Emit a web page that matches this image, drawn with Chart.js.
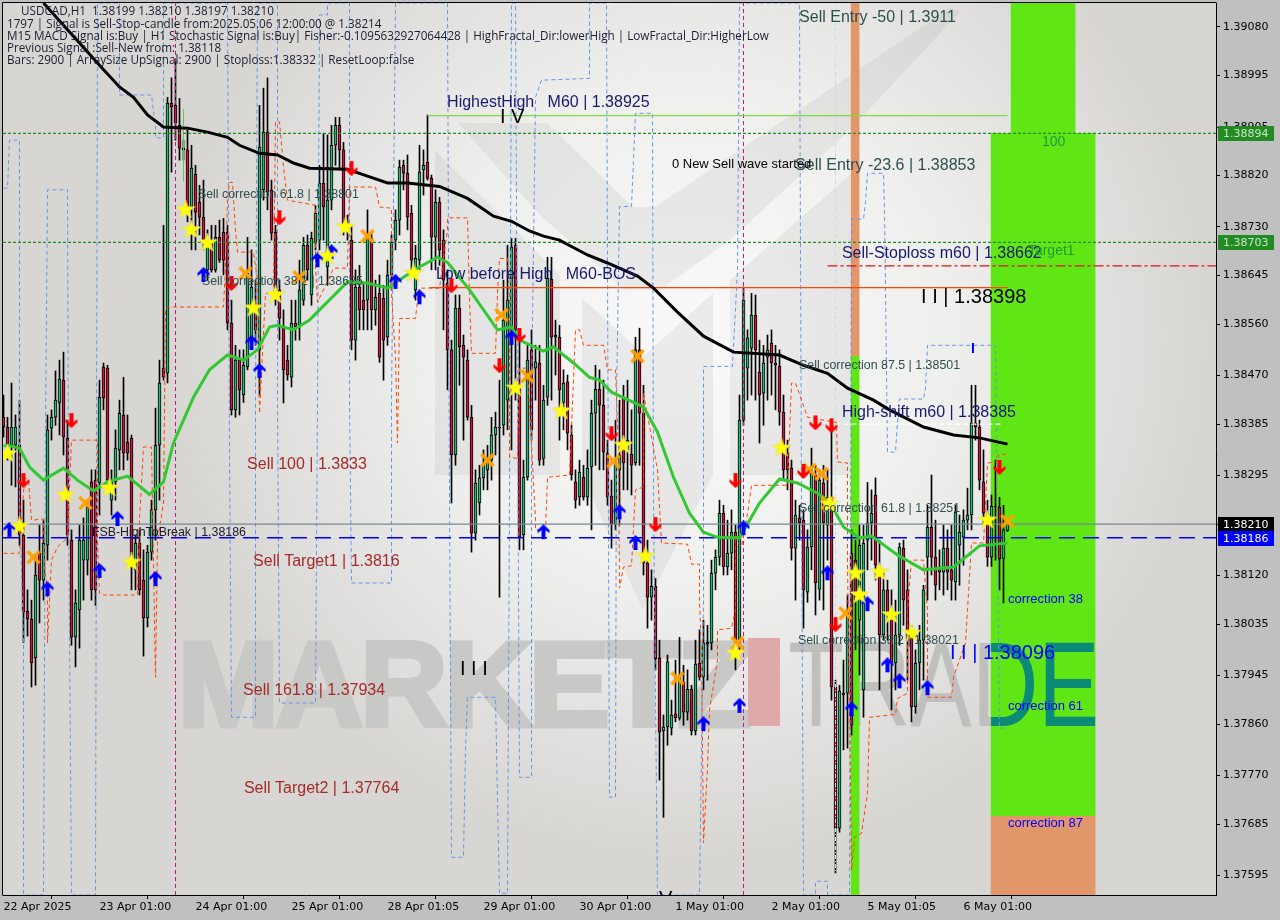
<!DOCTYPE html>
<html>
<head>
<meta charset="utf-8">
<title>USDCAD,H1</title>
<script src="https://cdn.jsdelivr.net/npm/chart.js@4/dist/chart.umd.min.js"></script>
<style>
html,body{margin:0;padding:0;background:#c0c0c0;}
canvas{display:block;}
</style>
</head>
<body>
<canvas id="chart" width="1280" height="920"></canvas>
<script>
// candles, one hour each
const highs = [1.38436,1.38397,1.38457,1.38401,1.38427,1.38252,1.38095,1.38077,1.38156,1.38208,1.38217,1.38401,
1.38410,1.38478,1.38497,1.38511,1.38392,1.38200,1.38095,1.38208,1.38221,1.38252,1.38305,1.38305,
1.38462,1.38492,1.38488,1.38305,1.38375,1.38427,1.38467,1.38401,1.38366,1.38191,1.38200,1.38165,
1.38173,1.38252,1.38413,1.38497,1.38733,1.38957,1.38991,1.39022,1.38955,1.38882,1.38900,1.38873,
1.38838,1.38803,1.38812,1.38725,1.38733,1.38733,1.38742,1.38745,1.38733,1.38602,1.38523,1.38515,
1.38515,1.38712,1.38690,1.38637,1.38943,1.38973,1.38991,1.38812,1.38733,1.38637,1.38585,1.38523,
1.38602,1.38602,1.38672,1.38712,1.38716,1.38721,1.38768,1.38838,1.38894,1.38891,1.38908,1.38922,
1.38922,1.38878,1.38751,1.38733,1.38655,1.38663,1.38633,1.38760,1.38721,1.38637,1.38646,1.38628,
1.38672,1.38716,1.38760,1.38847,1.38847,1.38856,1.38768,1.38698,1.38873,1.38865,1.38926,1.38821,
1.38795,1.38782,1.38725,1.38655,1.38532,1.38611,1.38611,1.38541,1.38515,1.38418,1.38305,1.38313,
1.38340,1.38348,1.38397,1.38406,1.38462,1.38637,1.38698,1.38710,1.38710,1.38550,1.38322,1.38523,
1.38550,1.38523,1.38523,1.38453,1.38677,1.38677,1.38567,1.38558,1.38480,1.38471,1.38383,1.38305,
1.38322,1.38313,1.38340,1.38427,1.38488,1.38480,1.38462,1.38357,1.38287,1.38392,1.38427,1.38453,
1.38462,1.38410,1.38537,1.38553,1.38453,1.38182,1.38130,1.38115,1.38007,1.37876,1.37981,1.37902,
1.37972,1.38012,1.37963,1.37955,1.37928,1.38007,1.38025,1.38042,1.38033,1.38147,1.38165,1.38252,
1.38243,1.38217,1.38235,1.38208,1.38436,1.38625,1.38550,1.38614,1.38611,1.38532,1.38523,1.38541,
1.38550,1.38523,1.38515,1.38436,1.38357,1.38322,1.38252,1.38243,1.38235,1.38200,1.38343,1.38313,
1.38305,1.38313,1.38305,1.38383,1.37937,1.37928,1.37972,1.38086,1.38200,1.38182,1.38208,1.38208,
1.38283,1.38270,1.38291,1.38182,1.38130,1.38112,1.38095,1.38077,1.38177,1.38182,1.38130,1.38033,
1.37990,1.38033,1.38103,1.38243,1.38296,1.38217,1.38165,1.38208,1.38200,1.38208,1.38243,1.38226,
1.38235,1.38273,1.38453,1.38453,1.38392,1.38340,1.38252,1.38261,1.38322,1.38257,1.38243,1.38210];
const lows = [1.38362,1.38322,1.38278,1.38275,1.38173,1.38003,1.38014,1.37925,1.37928,1.38037,1.38077,1.38147,
1.38357,1.38383,1.38366,1.38331,1.38173,1.37998,1.37960,1.37993,1.38077,1.38121,1.38077,1.38068,
1.38226,1.38410,1.38270,1.38226,1.38252,1.38305,1.38305,1.38322,1.38095,1.38095,1.38086,1.37979,
1.38030,1.38147,1.38182,1.38252,1.38462,1.38457,1.38826,1.38882,1.38847,1.38847,1.38739,1.38690,
1.38690,1.38716,1.38690,1.38637,1.38651,1.38651,1.38668,1.38646,1.38550,1.38401,1.38397,1.38401,
1.38423,1.38480,1.38515,1.38523,1.38436,1.38777,1.38760,1.38707,1.38593,1.38532,1.38422,1.38462,
1.38450,1.38532,1.38532,1.38593,1.38637,1.38593,1.38690,1.38690,1.38707,1.38628,1.38760,1.38838,
1.38830,1.38716,1.38707,1.38515,1.38497,1.38550,1.38550,1.38550,1.38550,1.38558,1.38493,1.38462,
1.38523,1.38620,1.38690,1.38716,1.38795,1.38725,1.38655,1.38602,1.38655,1.38786,1.38812,1.38655,
1.38655,1.38663,1.38550,1.38445,1.38247,1.38313,1.38453,1.38357,1.38392,1.38161,1.38182,1.38226,
1.38270,1.38270,1.38287,1.38331,1.38082,1.38366,1.38375,1.38340,1.38427,1.38165,1.38165,1.38287,
1.38357,1.38427,1.38313,1.38313,1.38418,1.38427,1.38471,1.38357,1.38375,1.38340,1.38287,1.38238,
1.38243,1.38252,1.38243,1.38200,1.38313,1.38305,1.38305,1.38243,1.38168,1.38200,1.38208,1.38270,
1.38270,1.38261,1.38313,1.38313,1.38121,1.38028,1.38042,1.37955,1.37762,1.37697,1.37823,1.37841,
1.37864,1.37867,1.37858,1.37867,1.37841,1.37841,1.37937,1.37920,1.37937,1.37990,1.38095,1.38138,
1.38121,1.38121,1.38130,1.37955,1.37990,1.38383,1.38427,1.38436,1.38427,1.38352,1.38383,1.38427,
1.38436,1.38410,1.38383,1.38287,1.38270,1.38147,1.38077,1.38182,1.38028,1.38073,1.38130,1.38051,
1.38077,1.38060,1.38147,1.37902,1.37599,1.37671,1.37815,1.37818,1.37841,1.37990,1.37946,1.37872,
1.38130,1.38147,1.38112,1.37920,1.38007,1.38007,1.37885,1.37920,1.37998,1.38033,1.37937,1.37864,
1.37879,1.37920,1.37937,1.38077,1.38121,1.38077,1.38095,1.38086,1.38095,1.38077,1.38077,1.38103,
1.38138,1.38200,1.38200,1.38357,1.38270,1.38208,1.38136,1.38136,1.38147,1.38095,1.38072,1.38197];
const opens = [1.38397,1.38380,1.38348,1.38348,1.38348,1.38191,1.38058,1.38044,1.37976,1.38159,1.38112,1.38173,
1.38378,1.38397,1.38423,1.38462,1.38360,1.38182,1.38012,1.38060,1.38147,1.38147,1.38284,1.38287,
1.38282,1.38485,1.38483,1.38252,1.38284,1.38340,1.38401,1.38353,1.38360,1.38130,1.38177,1.38112,
1.38046,1.38161,1.38235,1.38348,1.38483,1.38474,1.38947,1.38943,1.38908,1.38865,1.38865,1.38765,
1.38822,1.38773,1.38747,1.38655,1.38707,1.38655,1.38712,1.38721,1.38721,1.38562,1.38410,1.38497,
1.38436,1.38485,1.38532,1.38593,1.38515,1.38795,1.38896,1.38795,1.38721,1.38620,1.38553,1.38497,
1.38467,1.38562,1.38558,1.38602,1.38698,1.38611,1.38703,1.38707,1.38807,1.38660,1.38777,1.38873,
1.38908,1.38865,1.38733,1.38707,1.38532,1.38625,1.38602,1.38602,1.38710,1.38585,1.38614,1.38605,
1.38537,1.38646,1.38707,1.38742,1.38838,1.38824,1.38754,1.38620,1.38672,1.38830,1.38843,1.38815,
1.38712,1.38773,1.38707,1.38632,1.38515,1.38331,1.38588,1.38523,1.38497,1.38397,1.38194,1.38247,
1.38291,1.38305,1.38322,1.38366,1.38380,1.38383,1.38427,1.38550,1.38698,1.38450,1.38191,1.38292,
1.38515,1.38483,1.38492,1.38325,1.38432,1.38639,1.38541,1.38537,1.38423,1.38459,1.38366,1.38284,
1.38257,1.38292,1.38257,1.38310,1.38404,1.38446,1.38418,1.38334,1.38259,1.38210,1.38305,1.38431,
1.38340,1.38332,1.38317,1.38515,1.38404,1.38142,1.38082,1.38101,1.37976,1.37848,1.37855,1.37853,
1.37878,1.37871,1.37933,1.37881,1.37921,1.37848,1.37967,1.37942,1.38003,1.38002,1.38124,1.38152,
1.38229,1.38135,1.38159,1.38196,1.38007,1.38392,1.38483,1.38518,1.38576,1.38476,1.38439,1.38502,
1.38527,1.38492,1.38486,1.38406,1.38334,1.38308,1.38168,1.38221,1.38217,1.38091,1.38170,1.38296,
1.38096,1.38282,1.38208,1.38252,1.37925,1.37678,1.37914,1.37914,1.38159,1.38147,1.38042,1.37920,
1.38182,1.38212,1.38261,1.38130,1.38016,1.38095,1.38051,1.37967,1.38016,1.38168,1.38095,1.38012,
1.37890,1.37967,1.38007,1.38152,1.38205,1.38152,1.38135,1.38126,1.38168,1.38130,1.38109,1.38173,
1.38187,1.38217,1.38226,1.38387,1.38380,1.38284,1.38229,1.38152,1.38241,1.38240,1.38150,1.38199];
const closes = [1.38380,1.38348,1.38380,1.38380,1.38191,1.38056,1.38044,1.37967,1.38121,1.38112,1.38177,1.38375,
1.38397,1.38427,1.38464,1.38362,1.38191,1.38012,1.38072,1.38182,1.38182,1.38240,1.38095,1.38095,
1.38432,1.38431,1.38287,1.38287,1.38343,1.38404,1.38334,1.38334,1.38147,1.38177,1.38095,1.38046,
1.38161,1.38235,1.38348,1.38457,1.38467,1.38947,1.38940,1.38912,1.38868,1.38868,1.38765,1.38833,
1.38756,1.38747,1.38703,1.38707,1.38655,1.38712,1.38672,1.38672,1.38562,1.38410,1.38497,1.38445,
1.38488,1.38649,1.38625,1.38550,1.38870,1.38896,1.38791,1.38719,1.38602,1.38570,1.38480,1.38471,
1.38562,1.38555,1.38620,1.38698,1.38655,1.38710,1.38754,1.38807,1.38765,1.38777,1.38873,1.38908,
1.38865,1.38730,1.38728,1.38532,1.38625,1.38585,1.38585,1.38710,1.38585,1.38607,1.38502,1.38532,
1.38646,1.38703,1.38742,1.38835,1.38824,1.38747,1.38672,1.38675,1.38826,1.38838,1.38815,1.38712,
1.38773,1.38690,1.38637,1.38515,1.38331,1.38588,1.38520,1.38502,1.38397,1.38194,1.38282,1.38291,
1.38313,1.38326,1.38366,1.38380,1.38378,1.38567,1.38602,1.38695,1.38550,1.38187,1.38292,1.38497,
1.38375,1.38494,1.38322,1.38427,1.38640,1.38537,1.38537,1.38445,1.38457,1.38369,1.38296,1.38252,
1.38301,1.38257,1.38308,1.38404,1.38446,1.38418,1.38336,1.38257,1.38210,1.38317,1.38331,1.38317,
1.38357,1.38313,1.38515,1.38404,1.38142,1.38082,1.38101,1.37974,1.37846,1.37855,1.37969,1.37876,
1.37871,1.37941,1.37881,1.37921,1.37848,1.37965,1.37942,1.38002,1.38000,1.38124,1.38152,1.38229,
1.38135,1.38159,1.38196,1.38007,1.38392,1.38602,1.38536,1.38576,1.38515,1.38436,1.38492,1.38515,
1.38492,1.38488,1.38406,1.38305,1.38305,1.38168,1.38226,1.38212,1.38095,1.38170,1.38299,1.38107,
1.38287,1.38212,1.38257,1.37925,1.37678,1.37918,1.37911,1.38060,1.37858,1.38077,1.38173,1.38177,
1.38212,1.38229,1.38138,1.38016,1.38095,1.38051,1.37969,1.38016,1.38170,1.38077,1.38007,1.37890,
1.37967,1.38007,1.38095,1.38205,1.38152,1.38103,1.38126,1.38168,1.38126,1.38112,1.38231,1.38196,
1.38217,1.38226,1.38387,1.38380,1.38287,1.38229,1.38152,1.38241,1.38240,1.38149,1.38200,1.38210];

const priceTicks = [1.39080,1.38995,1.38905,1.38820,1.38730,1.38645,1.38560,1.38470,1.38385,1.38295,1.38210,1.38120,1.38035,1.37945,1.37860,1.37770,1.37685,1.37595];
const dayTicks = [0,24,48,72,96,120,144,168,192,216,240];
const dayLabels = ['22 Apr 2025','23 Apr 01:00','24 Apr 01:00','25 Apr 01:00','28 Apr 01:05','29 Apr 01:00','30 Apr 01:00','1 May 01:00','2 May 01:00','5 May 01:05','6 May 01:00'];

// moving averages
const slowBars = [10,19,24,29,32.5,36,40,46,51,56,59,64,68.5,72.5,76.5,86,91,96,101,109,116,122.5,127,131.5,135,139,146,151,158.5,162.5,168.5,175,182.5,194,200,206,211,217.5,221.5,230,237.5,244,251];
const slowValues = [1.39122,1.39052,1.39013,1.38975,1.38957,1.38926,1.38905,1.38903,1.38896,1.38887,1.38873,1.38859,1.38856,1.38842,1.38833,1.38831,1.38819,1.38807,1.38807,1.38801,1.38780,1.38749,1.38740,1.38723,1.38714,1.38707,1.38681,1.38667,1.38644,1.38623,1.38581,1.38539,1.38511,1.38506,1.38488,1.38474,1.38448,1.38427,1.38410,1.38380,1.38366,1.38361,1.38350];
const fastBars = [0,1.5,4,6.5,10,15,18.5,22.5,26,31,36.5,40,42.5,47.5,51.5,56,60,63.5,66.5,68.5,72.5,76.5,79,86,91,96,100,104,108.5,111,116.5,123.5,127,129,135,137.5,142.5,146.5,149,152,157.5,160,163.5,167.5,171.5,175,178.5,184,189,194,198.5,203.5,206.5,210,214,217,223.5,230,237.5,244,251];
const fastValues = [1.38347,1.38347,1.38343,1.38310,1.38287,1.38308,1.38287,1.38268,1.38284,1.38294,1.38262,1.38284,1.38352,1.38432,1.38480,1.38506,1.38497,1.38515,1.38555,1.38558,1.38550,1.38567,1.38585,1.38634,1.38632,1.38623,1.38642,1.38660,1.38677,1.38668,1.38620,1.38550,1.38555,1.38532,1.38513,1.38520,1.38492,1.38467,1.38462,1.38441,1.38423,1.38415,1.38371,1.38292,1.38229,1.38196,1.38187,1.38186,1.38247,1.38289,1.38282,1.38264,1.38249,1.38205,1.38186,1.38189,1.38156,1.38130,1.38135,1.38172,1.38177];

// dashed step lines
const blueBars = [0,1,1.5,4,4,5,5,10,10.5,11,16,16.25,17,23,23.5,29,29,37,38,38,40,40,56,56.5,57,63,63,63.5,68.5,68.5,69,78,78.5,79,81,81,86.5,86.5,87,97,97,98,111,111.5,112,115,115.5,116,123,123.5,124,126,126.5,127,128,128.5,129,132,132,133,134.5,146.5,146.5,150.75,151.5,153,153.25,154,157,158,162.25,162.5,163.5,174,175,175,182.25,183.5,184,199,199.5,200,203,203,206,206,211.5,212,215,215.5,216,220,220.25,221,223,223.5,224,230,230.5,231,248,248.25,249,251];
const blueValues = [1.38798,1.38798,1.38882,1.38882,1.38252,1.38007,1.37561,1.37561,1.38375,1.38795,1.38795,1.38252,1.37561,1.37561,1.39122,1.39122,1.38961,1.38961,1.38905,1.38886,1.38886,1.39122,1.39122,1.38340,1.37872,1.37872,1.38427,1.39122,1.39122,1.38427,1.37897,1.37897,1.38427,1.39101,1.39101,1.39122,1.39122,1.38427,1.38107,1.38107,1.38427,1.39122,1.39122,1.38252,1.37627,1.37627,1.37815,1.37907,1.37907,1.37727,1.37564,1.37564,1.38252,1.39122,1.39122,1.38427,1.37767,1.37767,1.38427,1.38957,1.38987,1.38990,1.39122,1.39122,1.37732,1.37732,1.38427,1.38766,1.38766,1.38929,1.38929,1.38252,1.37561,1.37561,1.38077,1.38486,1.38486,1.38655,1.39122,1.39122,1.38252,1.37561,1.37561,1.37585,1.37585,1.37561,1.37561,1.38744,1.38744,1.38773,1.38824,1.38824,1.38760,1.38336,1.38336,1.38388,1.38429,1.38429,1.38448,1.38523,1.38523,1.38340,1.37853,1.37853];
const orangeBars = [0,4,5.25,6.25,7,10,10.25,11,11,12,13.5,16,17,23.5,23.5,24,25,33.5,34,35,37,38,38.5,40,40.5,41,55,55.5,56,56.5,57.25,58,58.5,62.5,63.5,64,65,65.5,67.5,68,69,70,71,78,78,78.5,82.5,86,86.5,93,94,97,97,98,98.5,99,103,103.5,104,109,111,111,116,116.5,117,123,123.5,124,126,126.5,126.5,128.5,129,131,133,133,135.5,136,141.5,142.5,143,144,145,150,151,153,153.75,154,155,157,158,160,160,163.5,164.5,171,172,174,174,174.5,175,176,176.5,178.5,178.5,182,183,183,184.5,186,187,196,197,198,201,208.25,208.5,211,211,211.5,212,212.75,214.5,216,216.5,223,223.5,226,226,227,230,231,231,237,237.5,240.5,241,242,245,246,248.5,248.75,250.5];
const orangeValues = [1.38159,1.38159,1.38292,1.38287,1.38217,1.38219,1.38135,1.38095,1.38002,1.38147,1.38170,1.38186,1.38357,1.38357,1.38182,1.38089,1.38086,1.38086,1.38217,1.38345,1.38345,1.37942,1.38182,1.38247,1.38585,1.38590,1.38590,1.38660,1.38777,1.38808,1.38808,1.38725,1.38686,1.38686,1.38637,1.38404,1.38544,1.38614,1.38614,1.38914,1.38914,1.38835,1.38777,1.38768,1.38660,1.38598,1.38658,1.38658,1.38800,1.38800,1.38765,1.38763,1.38614,1.38502,1.38352,1.38570,1.38570,1.38602,1.38623,1.38623,1.38725,1.38746,1.38746,1.38607,1.38509,1.38509,1.38614,1.38675,1.38675,1.38607,1.38327,1.38325,1.38483,1.38483,1.38217,1.38200,1.38200,1.38292,1.38296,1.38462,1.38550,1.38550,1.38523,1.38523,1.38480,1.38480,1.38340,1.38098,1.38135,1.38137,1.38270,1.38275,1.38439,1.38305,1.38177,1.38175,1.38140,1.38140,1.38077,1.37984,1.37652,1.37785,1.37885,1.37972,1.38025,1.38028,1.38060,1.38182,1.38170,1.38229,1.38278,1.38278,1.38457,1.38457,1.38397,1.38388,1.38319,1.38317,1.38135,1.37902,1.37605,1.37662,1.37669,1.37739,1.37872,1.37877,1.37905,1.37914,1.38060,1.38147,1.38147,1.38060,1.37907,1.37907,1.37942,1.38002,1.38060,1.38177,1.38177,1.38317,1.38319,1.38332,1.38332];

// signal markers
const starBars = [45.5,47,51,62.5,68,81,85.5,102.5,1,4,15.5,26.5,32,128,139.5,155,160.5,183,194.5,206.5,213,214,219,222,227,246];
const starValues = [1.38760,1.38725,1.38702,1.38588,1.38611,1.38679,1.38730,1.38649,1.38333,1.38206,1.38261,1.38273,1.38143,1.38448,1.38408,1.38348,1.38154,1.37984,1.38343,1.38245,1.38124,1.38086,1.38126,1.38051,1.38019,1.38217];
const upBars = [50,78.5,82,98,104,1.5,11,24,28.5,38,62,64,127,135,154,158,185,206,175,184,212,216,221,224,231];
const upValues = [1.38646,1.38672,1.38686,1.38634,1.38607,1.38200,1.38096,1.38128,1.38219,1.38114,1.38527,1.38478,1.38536,1.38196,1.38231,1.38177,1.38203,1.38124,1.37860,1.37892,1.37886,1.38070,1.37963,1.37935,1.37923];
const downBars = [57,69,87,17,5,112,124,129,152,163,183,203,207,200,208,249];
const downValues = [1.38632,1.38747,1.38833,1.38392,1.38287,1.38628,1.38488,1.38541,1.38369,1.38210,1.38287,1.38388,1.38383,1.38303,1.38035,1.38310];
const crossBars = [60.5,74,91,7.5,20.5,124.5,131,158.5,121,152.5,168.5,183.5,201.5,204.5,206,210.5,251];
const crossValues = [1.38649,1.38642,1.38714,1.38152,1.38247,1.38576,1.38469,1.38504,1.38322,1.38320,1.37940,1.38002,1.38305,1.38298,1.38247,1.38054,1.38215];

// levels
const levelHighest = 1.38925, levelLow = 1.38624, levelStop = 1.38662, levelShift = 1.38385;
const levelUpper = 1.38894, levelLower = 1.38703, levelBid = 1.38210, levelBreak = 1.38186;
const magentaBars = [43,185];
const cyanBar = 208;

// target zones
const zoneBars = [259.9,259.9,259.9,212.9,212.9];
const zoneLows = [1.38894,1.37700,1.37561,1.38505,1.37561];
const zoneHighs = [1.39122,1.38894,1.37700,1.39122,1.38505];
const zoneKinds = ['green','green','orange','orange','green'];
const zoneWidths = [64,104,104,8,8];

// chart labels
const labelTexts = ['Sell Entry -50 | 1.3911','Sell Entry -23.6 | 1.38853','0 New Sell wave started','HighestHigh   M60 | 1.38925','I V','Sell correction 61.8 | 1.38801','Sell correction 38.2 | 1.38625','Low before High   M60-BOS','I I | 1.38398','Sell-Stoploss m60 | 1.38662','Target1','100','Sell correction 87.5 | 1.38501','High-shift m60 | 1.38385','Sell correction 61.8 | 1.38251','Sell correction 38.2 | 1.38021','I I | 1.38096','I','correction 38','correction 61','correction 87','Sell 100 | 1.3833','Sell Target1 | 1.3816','Sell 161.8 | 1.37934','Sell Target2 | 1.37764','FSB-HighToBreak | 1.38186','I I I','V'];
const labelBars = [198.9,197.9,167.1,110.9,124.1,48.6,49.6,108.1,229.4,209.6,256.1,259.6,198.9,209.6,198.9,198.6,236.6,241.9,251.1,251.1,251.1,60.9,62.4,59.9,60.1,22.1,114.1,163.9];
const labelValues = [1.39096,1.38838,1.38840,1.38947,1.38922,1.38787,1.38635,1.38646,1.38607,1.38684,1.38688,1.38879,1.38488,1.38406,1.38238,1.38007,1.37983,1.38516,1.38079,1.37891,1.37687,1.38315,1.38145,1.37918,1.37748,1.38196,1.37956,1.37554];
const labelKinds = ['entry','entry','note','navy','big','corr','corr','navy','big','navy','zone','zone','corr','navy','corr','corr','bigblue','tick','blue','blue','blue','sell','sell','sell','sell','note2','big','big'];

const headerLines = ['1797 | Signal is Sell-Stop-candle from:2025.05.06 12:00:00 @ 1.38214','M15 MACD Signal is:Buy | H1 Stochastic Signal is:Buy| Fisher:-0.1095632927064428 | HighFractal_Dir:lowerHigh | LowFractal_Dir:HigherLow','Previous Signal :Sell-New from: 1.38118','Bars: 2900 | ArraySize UpSignal: 2900 | Stoploss:1.38332 | ResetLoop:false'];
const headerTitle = 'USDCAD,H1  1.38199 1.38210 1.38197 1.38210';

const tagValues = [levelUpper,levelLower,levelBid,levelBreak];
const tagColors = [['#228b22','#c8e6c8'],['#228b22','#c8e6c8'],['#000000','#ffffff'],['#0000ff','#ffffff']];

const labelStyles = {
  entry:{size:16,color:'#2f4f4f'},
  note:{size:13,color:'#000000'},
  note2:{size:12.4,color:'#1a1a2e'},
  navy:{size:16,color:'#191970'},
  big:{size:20,color:'#000000'},
  bigblue:{size:20,color:'#0000ff'},
  tick:{size:14,color:'#0000ff',weight:'bold '},
  corr:{size:12.4,color:'#2f4f4f'},
  zone:{size:14,color:'#1f9a3a'},
  blue:{size:13,color:'#0000ff'},
  sell:{size:16,color:'#a52a2a'}
};
const zoneColors = {green:'#60e614',orange:'#e2976a'};
const bullColor = '#2bb673', bearColor = '#c8163e';

function pts(xs,ys){ return xs.map((x,i)=>({x:x,y:ys[i]})); }
function flat(x0,x1,v){ return [{x:x0,y:v},{x:x1,y:v}]; }
function upright(x,lo,hi){ return [{x:x,y:lo},{x:x,y:hi}]; }

function sprite(w,h,draw){
  const c = document.createElement('canvas');
  c.width = w; c.height = h;
  draw(c.getContext('2d'));
  return c;
}
const starImg = sprite(20,20,g=>{
  g.fillStyle = '#ffff00';
  g.beginPath();
  for(let i=0;i<10;i++){
    const r = i%2 ? 4 : 10, a = -Math.PI/2+i*Math.PI/5;
    g.lineTo(10+r*Math.cos(a),10+r*Math.sin(a));
  }
  g.closePath(); g.fill();
  g.strokeStyle = 'rgba(230,220,120,0.7)'; g.stroke();
});
function arrowShape(g){
  g.beginPath();
  g.moveTo(7,0);g.lineTo(13,6);g.lineTo(13,9);g.lineTo(9,6);g.lineTo(9,15);g.lineTo(5,15);g.lineTo(5,6);g.lineTo(1,9);g.lineTo(1,6);
  g.closePath(); g.fill();
}
const upImg = sprite(14,16,g=>{ g.fillStyle='#0000ff'; arrowShape(g); });
const downImg = sprite(14,16,g=>{ g.translate(0,16); g.scale(1,-1); g.fillStyle='#ff0000'; arrowShape(g); });
const crossImg = sprite(16,16,g=>{
  g.strokeStyle='#ffa000'; g.lineWidth=3.5;
  g.beginPath();g.moveTo(2,2);g.lineTo(14,14);g.moveTo(14,2);g.lineTo(2,14);g.stroke();
});

function drawBackdrop(chart){
  const g = chart.ctx, a = chart.chartArea;
  g.save();
  g.beginPath(); g.rect(a.left,a.top,a.right-a.left,a.bottom-a.top); g.clip();
  const grad = g.createRadialGradient(690,340,40,690,340,520);
  grad.addColorStop(0,'#f8f8f8');
  grad.addColorStop(0.45,'#efefee');
  grad.addColorStop(1,'#d7d6d3');
  g.fillStyle = grad;
  g.fillRect(a.left,a.top,a.right-a.left,a.bottom-a.top);
  // logo behind the chart
  g.fillStyle = 'rgba(150,150,150,0.13)';
  const logo = [
    [[458,123],[547,123],[633,207],[655,207],[950,8],[960,12],[850,130],[730,240],[660,290],[625,290],[540,215]],
    [[435,150],[560,275],[560,475],[435,475]],
    [[582,298],[645,355],[713,293],[713,475],[643,610],[582,475]],
    [[730,280],[850,175],[850,475],[730,475]]
  ];
  logo.forEach(p=>{
    g.beginPath();
    p.forEach(q=>g.lineTo(q[0],q[1]));
    g.closePath(); g.fill();
  });
  watermark(g,'#c8c8c6','#bfbfbd',true);
  g.restore();
}
function watermark(g,boldColor,thinColor,heavy){
  g.fillStyle = boldColor;
  g.textBaseline = 'alphabetic';
  g.textAlign = 'left';
  g.font = 'bold 121px "Liberation Sans"';
  g.letterSpacing = '-3px';
  if(heavy){
    g.fillText('MARKETZ',178,726);
    g.strokeStyle = boldColor; g.lineWidth = 5; g.lineJoin = 'miter';
    g.strokeText('MARKETZ',178,726);
  }
  g.letterSpacing = '0px';
  g.fillStyle = thinColor;
  g.save();
  g.translate(788,726); g.scale(0.76,1);
  g.font = '121px "Liberation Sans"';
  g.fillText('TRADE',0,0);
  g.restore();
}

const overlayPlugin = {
  id:'overlay',
  beforeDatasetsDraw(chart){
    drawBackdrop(chart);
  },
  beforeDatasetDraw(chart,args){
    // pink letter and the teal part of the logo sit on top of the zones
    if(args.meta.label!=='wicks') return;
    const g = chart.ctx, x = chart.scales.x, y = chart.scales.y;
    g.save();
    g.fillStyle = '#e0a9a9';
    g.fillRect(748,638,32,88);
    const cx = x.getPixelForValue(zoneBars[1]);
    g.beginPath();
    g.rect(cx-zoneWidths[1]/2,y.getPixelForValue(zoneHighs[1]),zoneWidths[1],y.getPixelForValue(zoneLows[1])-y.getPixelForValue(zoneHighs[1]));
    g.clip();
    watermark(g,'#0b8a76','#0b8a76',false);
    g.restore();
  },
  afterDatasetsDraw(chart){
    const g = chart.ctx, a = chart.chartArea, x = chart.scales.x, y = chart.scales.y;
    g.save();
    g.beginPath(); g.rect(a.left,a.top,a.right-a.left,a.bottom-a.top); g.clip();
    g.textAlign = 'left'; g.textBaseline = 'middle';
    labelTexts.forEach((t,i)=>{
      const s = labelStyles[labelKinds[i]];
      g.font = (s.weight||'')+s.size+'px "Liberation Sans"';
      g.fillStyle = s.color;
      g.fillText(t,x.getPixelForValue(labelBars[i]),y.getPixelForValue(labelValues[i]));
    });
    g.font = '11.7px "Open Sans"';
    g.fillStyle = '#1c1c34';
    g.fillText(headerTitle,21,12);
    headerLines.forEach((t,i)=>g.fillText(t,7,25+i*12));
    g.restore();

    g.save();
    g.strokeStyle = '#000000'; g.lineWidth = 1;
    g.beginPath();
    g.moveTo(2.5,895.5);g.lineTo(2.5,2.5);g.lineTo(1216.5,2.5);
    g.stroke();
    g.font = '11px "DejaVu Sans"';
    g.textAlign = 'left'; g.textBaseline = 'middle';
    tagValues.forEach((v,i)=>{
      const py = Math.round(y.getPixelForValue(v));
      g.fillStyle = tagColors[i][0];
      g.fillRect(1218,py-7,56,15);
      g.fillStyle = tagColors[i][1];
      g.fillText(v.toFixed(5),1223,py+1);
    });
    g.restore();
  }
};

const lineBase = {type:'line',pointRadius:0,borderWidth:1,tension:0,fill:false};
const markBase = {type:'line',showLine:false,pointRadius:5,pointHoverRadius:5};

const datasets = [];
zoneBars.forEach((b,i)=>{
  datasets.push({type:'bar',order:20,grouped:false,barThickness:zoneWidths[i],backgroundColor:zoneColors[zoneKinds[i]],borderWidth:0,
    data:[{x:b,y:[zoneLows[i],zoneHighs[i]]}]});
});
datasets.push(
  {type:'bar',label:'wicks',order:12,grouped:false,barThickness:1,backgroundColor:'#000000',borderWidth:0,
    data:highs.map((h,i)=>({x:i,y:[lows[i],h]}))},
  {type:'bar',label:'bodies',order:11,grouped:false,barThickness:3,borderColor:'#000000',borderWidth:1,borderSkipped:false,
    backgroundColor:closes.map((c,i)=>c>=opens[i]?bullColor:bearColor),
    data:opens.map((o,i)=>({x:i,y:[Math.min(o,closes[i]),Math.max(o,closes[i])]}))},
  {...lineBase,label:'blue steps',order:10,borderColor:'#6495ed',borderDash:[4,3],data:pts(blueBars,blueValues)},
  {...lineBase,label:'orange steps',order:9,borderColor:'#ff4500',borderDash:[4,3],data:pts(orangeBars,orangeValues)},
  {...lineBase,order:9,borderColor:'#c71585',borderDash:[4,3],data:upright(magentaBars[0],1.37561,1.39122)},
  {...lineBase,order:9,borderColor:'#c71585',borderDash:[4,3],data:upright(magentaBars[1],1.37561,1.39122)},
  {...lineBase,order:9,borderColor:'#b9e3e0',borderDash:[4,2,1,2],data:upright(cyanBar,1.37561,1.39122)},
  {...lineBase,order:9,borderColor:'#5ec75e',data:upright(45,1.38810,1.38936)},
  {...lineBase,order:8,borderColor:'#228b22',borderWidth:1.3,borderDash:[3,2],data:flat(-0.125,303.125,levelUpper)},
  {...lineBase,order:8,borderColor:'#228b22',borderWidth:1.3,borderDash:[3,2],data:flat(-0.125,303.125,levelLower)},
  {...lineBase,order:8,borderColor:'#7fdc3c',borderWidth:1.3,data:flat(106,251,levelHighest)},
  {...lineBase,order:8,borderColor:'#ff4500',borderWidth:1.3,data:flat(106.5,251,levelLow)},
  {...lineBase,order:8,borderColor:'#dc1414',borderWidth:1.3,borderDash:[10,3,3,3],data:flat(206,303.125,levelStop)},
  {...lineBase,order:8,borderColor:'#ffffff',borderWidth:1.3,borderDash:[5,3],data:flat(208,250,levelShift)},
  {...lineBase,order:8,borderColor:'#778899',borderWidth:1.3,data:flat(-0.125,303.125,levelBid)},
  {...lineBase,order:8,borderColor:'#0000ff',borderWidth:1.5,borderDash:[16,8],data:flat(-0.125,303.125,levelBreak)},
  {...lineBase,label:'slow ma',order:5,borderColor:'#000000',borderWidth:3,data:pts(slowBars,slowValues)},
  {...lineBase,label:'fast ma',order:4,borderColor:'#32c832',borderWidth:3,data:pts(fastBars,fastValues)},
  {...markBase,order:3,pointStyle:crossImg,data:pts(crossBars,crossValues)},
  {...markBase,order:2,pointStyle:upImg,data:pts(upBars,upValues)},
  {...markBase,order:2,pointStyle:downImg,data:pts(downBars,downValues)},
  {...markBase,order:1,pointStyle:starImg,data:pts(starBars,starValues)}
);

new Chart(document.getElementById('chart').getContext('2d'),{
  type:'bar',
  data:{datasets:datasets},
  plugins:[overlayPlugin],
  options:{
    responsive:false,
    animation:false,
    events:[],
    layout:{autoPadding:false,padding:{left:3,top:3,right:0,bottom:0}},
    plugins:{legend:{display:false},tooltip:{enabled:false},title:{display:false}},
    scales:{
      x:{
        type:'linear',
        min:-0.125,
        max:303.125,
        offset:false,
        grid:{drawOnChartArea:false,color:'#000000',tickLength:4},
        border:{color:'#000000'},
        afterBuildTicks(s){ s.ticks = dayTicks.map(v=>({value:v})); },
        afterFit(s){ s.height = 25; s.paddingLeft = 0; s.paddingRight = 0; },
        ticks:{
          autoSkip:false,maxRotation:0,minRotation:0,align:'start',padding:2,color:'#000000',
          font:{family:'"DejaVu Sans"',size:11},
          callback(v){ return dayLabels[dayTicks.indexOf(v)]; }
        }
      },
      y:{
        position:'right',
        min:1.37561,
        max:1.39122,
        grid:{drawOnChartArea:false,color:'#000000',tickLength:4},
        border:{color:'#000000'},
        afterBuildTicks(s){ s.ticks = priceTicks.map(v=>({value:v})); },
        afterFit(s){ s.width = 64; s.paddingTop = 0; s.paddingBottom = 0; },
        ticks:{
          autoSkip:false,padding:3,color:'#000000',
          font:{family:'"DejaVu Sans"',size:11},
          callback(v){ return v.toFixed(5); }
        }
      }
    }
  }
});
</script>
</body>
</html>
